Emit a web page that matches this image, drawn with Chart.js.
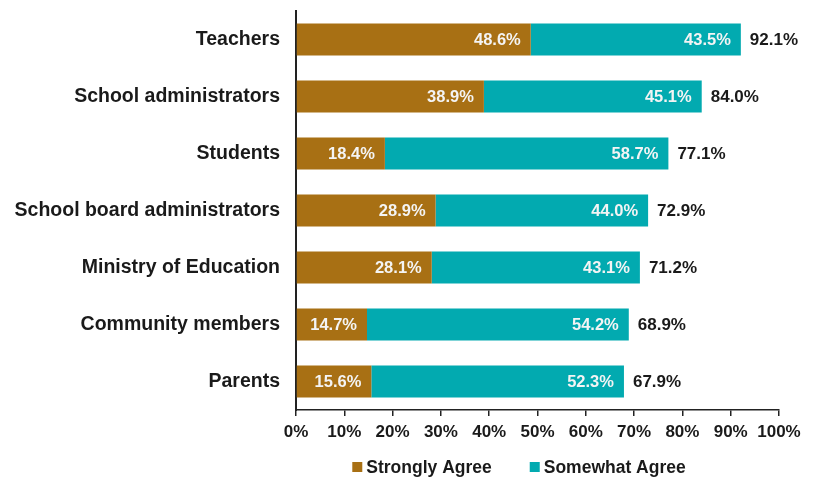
<!DOCTYPE html>
<html>
<head>
<meta charset="utf-8">
<script src="https://cdn.jsdelivr.net/npm/chart.js@4/dist/chart.umd.min.js"></script>
<style>
html,body{margin:0;padding:0;background:#fff;}
#wrap{width:814px;height:478px;position:relative;}
</style>
</head>
<body>
<div id="wrap"><canvas id="c" width="814" height="478"></canvas></div>
<script>
const categories = ["Teachers","School administrators","Students","School board administrators","Ministry of Education","Community members","Parents"];
const stronglyAgree = [48.6, 38.9, 18.4, 28.9, 28.1, 14.7, 15.6];
const somewhatAgree = [43.5, 45.1, 58.7, 44.0, 43.1, 54.2, 52.3];
const totals = [92.1, 84.0, 77.1, 72.9, 71.2, 68.9, 67.9];
const seriesNames = ["Strongly Agree", "Somewhat Agree"];
const tickValues = [0,10,20,30,40,50,60,70,80,90,100];

const BROWN = "#A87014";
const TEAL = "#02AAB0";
const FONT = "'Liberation Sans', Arial, sans-serif";

const labelPlugin = {
  id: 'labels',
  afterDatasetsDraw(chart) {
    const ctx = chart.ctx;
    ctx.save();
    ctx.font = "bold 16.5px " + FONT;
    ctx.textBaseline = 'middle';
    chart.data.datasets.forEach((ds, di) => {
      const meta = chart.getDatasetMeta(di);
      meta.data.forEach((bar, i) => {
        ctx.fillStyle = '#F4F4F4';
        ctx.textAlign = 'right';
        ctx.fillText(ds.data[i].toFixed(1) + '%', bar.x - 10, bar.y + 1);
      });
    });
    const xs = chart.scales.x;
    const meta = chart.getDatasetMeta(1);
    ctx.font = "bold 17px " + FONT;
    meta.data.forEach((bar, i) => {
      ctx.fillStyle = '#1A1A1A';
      ctx.textAlign = 'left';
      ctx.fillText(totals[i].toFixed(1) + '%', xs.getPixelForValue(totals[i]) + 9, bar.y + 1);
    });
    ctx.restore();
  },
  afterDraw(chart) {
    const ctx = chart.ctx;
    ctx.save();
    ctx.font = "bold 17.5px " + FONT;
    ctx.textBaseline = 'middle';
    ctx.textAlign = 'left';
    const colors = [BROWN, TEAL];
    const box = 10, gapBox = 4, gapItem = 38;
    let widths = seriesNames.map(n => box + gapBox + ctx.measureText(n).width);
    let total = widths.reduce((a,b)=>a+b,0) + gapItem;
    let x = 519 - total/2;
    const y = 467;
    seriesNames.forEach((n, i) => {
      ctx.fillStyle = colors[i];
      ctx.fillRect(x, y - box/2, box, box);
      ctx.fillStyle = '#1A1A1A';
      ctx.fillText(n, x + box + gapBox, y + 1);
      x += widths[i] + gapItem;
    });
    ctx.restore();
  }
};

new Chart(document.getElementById('c'), {
  type: 'bar',
  data: {
    labels: categories,
    datasets: [
      { label: seriesNames[0], data: stronglyAgree, backgroundColor: BROWN, borderWidth: 0, barPercentage: 0.56, categoryPercentage: 1.0 },
      { label: seriesNames[1], data: somewhatAgree, backgroundColor: TEAL, borderWidth: 0, barPercentage: 0.56, categoryPercentage: 1.0 }
    ]
  },
  options: {
    indexAxis: 'y',
    responsive: false,
    animation: false,
    devicePixelRatio: 1,
    layout: { padding: { top: 11, right: 35, bottom: 0, left: 0 } },
    plugins: { legend: { display: false }, tooltip: { enabled: false } },
    scales: {
      x: {
        stacked: true,
        min: 0, max: 100,
        afterBuildTicks(scale) { scale.ticks = tickValues.map(v => ({ value: v })); },
        afterFit(scale) { scale.height = 68; scale.paddingLeft = 0; scale.paddingRight = 0; },
        ticks: {
          color: '#1A1A1A',
          font: { family: FONT, size: 17, weight: 'bold' },
          padding: 6,
          maxRotation: 0,
          autoSkip: false,
          callback: v => v + '%'
        },
        grid: { display: true, drawOnChartArea: false, drawTicks: true, tickLength: 6, color: '#222', lineWidth: 1.5 },
        border: { display: true, color: '#222', width: 1.5 }
      },
      y: {
        stacked: true,
        afterFit(scale) { scale.width = 296; scale.paddingTop = 0; scale.paddingBottom = 0; },
        ticks: {
          color: '#1A1A1A',
          font: { family: FONT, size: 19.5, weight: 'bold' },
          padding: 16
        },
        grid: { display: false, drawTicks: false },
        border: { display: true, color: '#222', width: 2 }
      }
    }
  },
  plugins: [labelPlugin]
});
</script>
</body>
</html>
